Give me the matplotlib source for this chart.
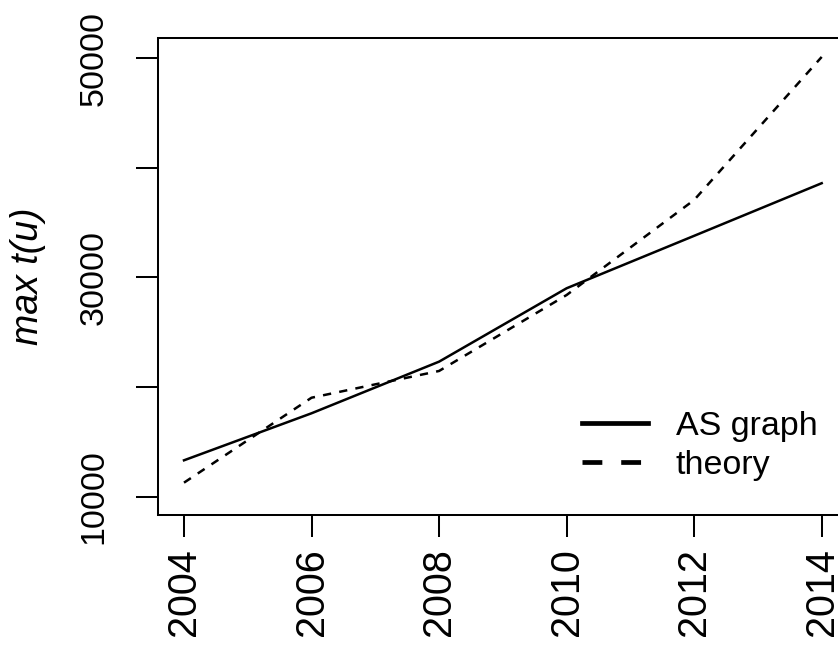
import matplotlib
matplotlib.use("Agg")
import matplotlib.pyplot as plt
from matplotlib.lines import Line2D

plt.rcParams.update({
    "font.family": ["Liberation Sans", "DejaVu Sans"],
    "font.size": 24,
})

# values
years = [2004, 2006, 2008, 2010, 2012, 2014]
as_graph = [13320, 17610, 22320, 29015, 33800, 38600]
theory = [11280, 19030, 21470, 28400, 37070, 50120]

x_ticks = [2004, 2006, 2008, 2010, 2012, 2014]
y_ticks = [10000, 20000, 30000, 40000, 50000]
y_labels = ["10000", "", "30000", "", "50000"]

W, H = 838, 646
fig = plt.figure(figsize=(W / 100, H / 100), dpi=100)
left, top, bottom, right = 158.3, 38.3, 515.0, 847.2
ax = fig.add_axes([left / W, 1 - bottom / H, (right - left) / W, (bottom - top) / H])

ax.plot(years, as_graph, color="black", lw=1.8, solid_joinstyle="round")
ax.plot(years, theory, color="black", lw=1.8, dashes=(3.3, 3.3))

ax.set_xlim(2003.597, 2014.4)
ax.set_ylim(8330, 51820)

ax.set_xticks(x_ticks)
ax.set_xticklabels([str(t) for t in x_ticks], rotation=90, fontsize=28.5)
ax.set_yticks(y_ticks)
ax.set_yticklabels(y_labels, rotation=90, va="center", fontsize=24.5)

ax.tick_params(axis="both", direction="out", length=16, width=1.45)
ax.tick_params(axis="x", pad=8)
ax.tick_params(axis="y", pad=19)
for s in ax.spines.values():
    s.set_linewidth(1.45)

ax.set_ylabel("max t(u)", style="italic", fontsize=27)
ax.yaxis.set_label_coords((28 - left) / (right - left), 0.5)
ax.yaxis.label.set_va("center")

handles = [
    Line2D([], [], color="black", lw=3.4),
    Line2D([], [], color="black", lw=3.4, dashes=(4.2, 4.0)),
]
ax.legend(handles, ["AS graph", "theory"], loc="center left",
          bbox_to_anchor=(582 / W, 1 - 446 / H), bbox_transform=fig.transFigure,
          frameon=False, borderpad=0, borderaxespad=0, handlelength=1.95,
          handletextpad=0.8, labelspacing=0.22, fontsize=24.5)

fig.savefig("out.png", dpi=100)
